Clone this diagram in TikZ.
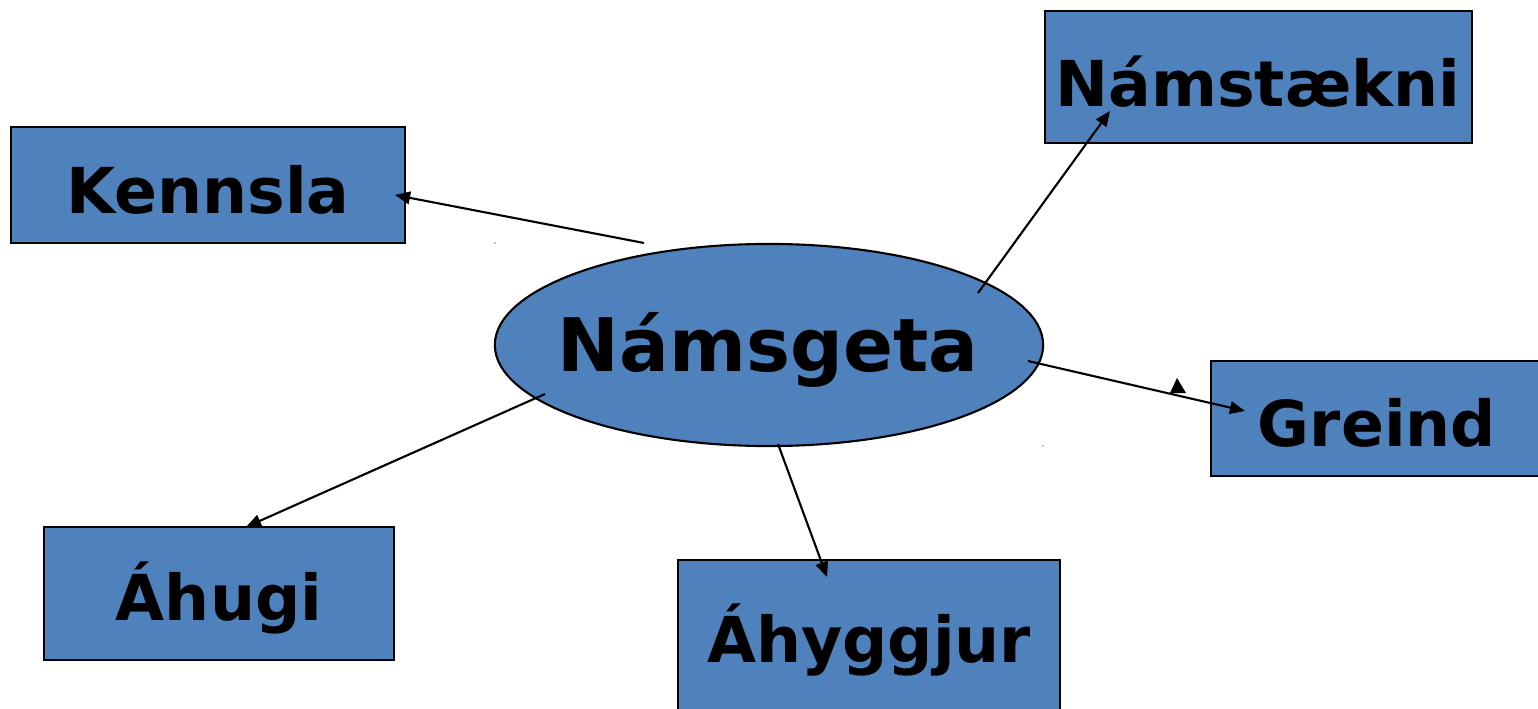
\documentclass[tikz,border=0pt]{standalone}
\usepackage{fontspec}
\setmainfont{DejaVu Sans}
\usetikzlibrary{shapes.geometric,arrows.meta}
\definecolor{boxblue}{RGB}{79,129,189}
\tikzset{
  box/.style={draw=black,line width=0.6pt,fill=boxblue,rectangle,inner sep=0pt},
  lbl/.style={font=\fontsize{18}{20}\selectfont\bfseries,text=black},
  conn/.style={draw=black,line width=0.6pt,-{Triangle[length=4.3pt,width=3.6pt]}},
}
\begin{document}
\begin{tikzpicture}[x=0.01cm,y=-0.01cm]
\useasboundingbox (0,0) rectangle (1538,709);
\begin{scope}
\clip (0,0) rectangle (1538,709);
% boxes
\node[box,minimum width=3.94cm,minimum height=1.16cm] (kennsla) at (208,185) {};
\node[box,minimum width=4.27cm,minimum height=1.32cm] (namstaekni) at (1258.5,77) {};
\node[box,minimum width=3.30cm,minimum height=1.15cm] (greind) at (1376,418.5) {};
\node[box,minimum width=3.50cm,minimum height=1.33cm] (ahugi) at (219,593.5) {};
\node[box,minimum width=3.82cm,minimum height=1.70cm] (ahyggjur) at (869,645) {};
% ellipse
\node[draw=black,line width=0.6pt,fill=boxblue,ellipse,minimum width=5.48cm,minimum height=2.02cm,inner sep=0pt] (namsgeta) at (769,345) {};
\end{scope}
% labels
\node[lbl] (tk) at (208,190) {Kennsla};
\node[lbl] (tn) at (1258,82) {Námstækni};
\node[lbl] (tg) at (1377,423) {Greind};
\node[lbl] (ta) at (219,598) {Áhugi};
\node[lbl] (ty) at (869,640) {Áhyggjur};
\node[font=\fontsize{21}{24}\selectfont\bfseries,text=black] (tm) at (768,350) {Námsgeta};
% connector ends
\coordinate (s1) at (644,243);
\coordinate (e1) at (395,195);
\coordinate (s2) at (978,293);
\coordinate (e2) at (1110,111);
\coordinate (s3) at (1028,361);
\coordinate (e3) at (1245,411);
\coordinate (s4) at (545,394);
\coordinate (e4) at (246,527);
\coordinate (s5) at (778,444);
\coordinate (e5) at (827,577);
\draw[conn] (s1) -- (e1);
\draw[conn] (s2) -- (e2);
\draw[conn] (s3) -- (e3);
\draw[conn] (s4) -- (e4);
\draw[conn] (s5) -- (e5);
% stray arrowhead
\coordinate (t1) at (1177,378);
\coordinate (t2) at (1170,393);
\coordinate (t3) at (1186,393);
\fill[black] (t1) -- (t2) -- (t3) -- cycle;
% tiny dots
\coordinate (d1) at (495,243);
\coordinate (d2) at (1043,446);
\fill[black] (d1) circle (0.6);
\fill[black] (d2) circle (0.6);
\end{tikzpicture}
\end{document}
